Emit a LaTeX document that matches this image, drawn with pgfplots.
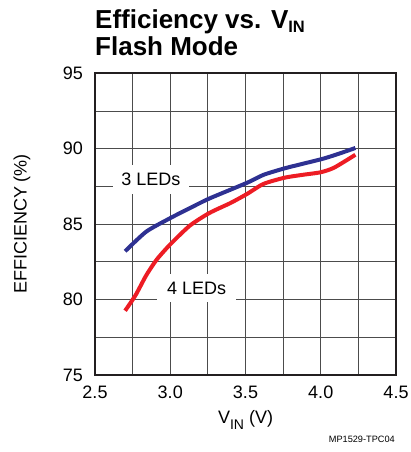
\documentclass[border=0pt]{standalone}
\usepackage{fontspec}
\setmainfont{Liberation Sans}
\usepackage{pgfplots}
\pgfplotsset{compat=1.18}
\definecolor{cblue}{HTML}{2E3192}
\definecolor{cred}{HTML}{ED1C24}
\definecolor{cframe}{HTML}{231F20}
\begin{document}
\begin{tikzpicture}
\path[use as bounding box] (0,0) rectangle (411pt,452pt);
\begin{axis}[
  at={(95pt,77pt)}, anchor=south west,
  scale only axis, width=301pt, height=301.7pt,
  xmin=2.5, xmax=4.5, ymin=75, ymax=95,
  xtick={2.5,3.0,3.5,4.0,4.5}, ytick={75,80,85,90,95},
  minor xtick={2.75,3.25,3.75,4.25}, minor ytick={77.5,82.5,87.5,92.5},
  grid=both, major tick length=0pt, minor tick length=0pt,
  major grid style={line width=0.9pt, black!70},
  minor grid style={line width=0.9pt, black!70},
  axis line style={line width=2pt, cframe},
  tick label style={font=\fontsize{18}{18}\selectfont},
  /pgf/number format/assume math mode=true,
  xticklabel style={anchor=north, inner sep=0pt, yshift=-11pt,
    /pgf/number format/.cd, fixed, fixed zerofill, precision=1},
  yticklabel style={anchor=east, inner sep=0pt, xshift=-12pt},
  clip=false,
]
\addplot[cblue, line width=4pt, line join=round, smooth, tension=0.4] coordinates {
 (2.70,83.2) (2.84,84.5) (3.00,85.4) (3.13,86.06) (3.26,86.7) (3.51,87.74)
 (3.62,88.27) (3.76,88.7) (3.88,89.0) (4.02,89.35) (4.13,89.7) (4.23,90.05)
};
\addplot[cred, line width=4pt, line join=round, smooth, tension=0.4] coordinates {
 (2.70,79.26) (2.77,80.3) (2.84,81.6) (2.91,82.65) (3.00,83.66) (3.13,84.9)
 (3.26,85.74) (3.40,86.4) (3.51,87.0) (3.62,87.67) (3.76,88.08) (3.88,88.27)
 (4.00,88.44) (4.09,88.75) (4.23,89.6)
};
\node[fill=white, inner xsep=8.5pt, inner ysep=8pt, font=\fontsize{18}{18}\selectfont] at (axis cs:2.872,87.98) {3 LEDs};
\node[fill=white, inner xsep=10pt, inner ysep=8pt, font=\fontsize{18}{18}\selectfont] at (axis cs:3.176,80.77) {4 LEDs};
\end{axis}
\node[anchor=base west, inner sep=0pt, font=\fontsize{26}{26}\selectfont\bfseries] at (95pt,423.7pt) {Efficiency vs. V\raisebox{-4pt}{\fontsize{16.5}{16.5}\selectfont IN}};
\node[anchor=base west, inner sep=0pt, font=\fontsize{26}{26}\selectfont\bfseries] at (95pt,396pt) {Flash Mode};
\node[anchor=base, inner sep=0pt, font=\fontsize{18}{18}\selectfont] at (245.5pt,28pt) {V\raisebox{-5pt}{\fontsize{14}{14}\selectfont IN} (V)};
\node[anchor=base, rotate=90, inner sep=0pt, font=\fontsize{18}{18}\selectfont] at (26.7pt,228pt) {EFFICIENCY (\%)};
\node[anchor=base east, inner sep=0pt, font=\fontsize{9.2}{9.2}\selectfont] at (395pt,9.3pt) {MP1529-TPC04};
\end{tikzpicture}
\end{document}
